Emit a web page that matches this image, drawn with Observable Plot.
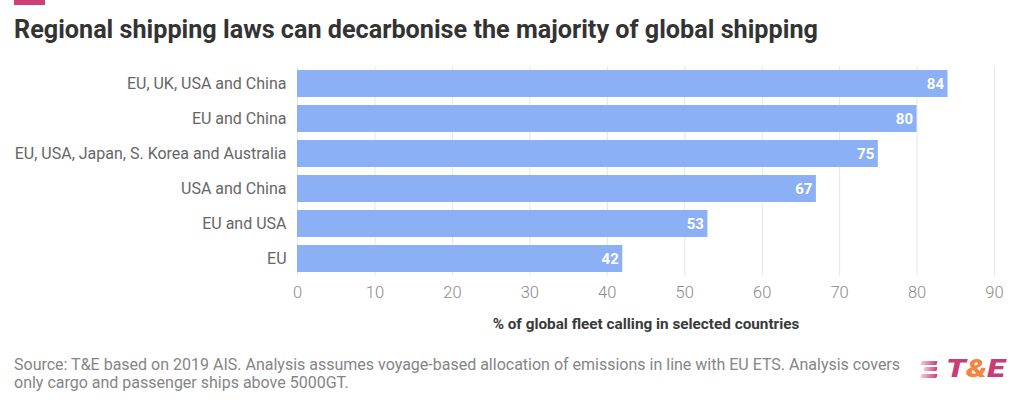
<!DOCTYPE html>
<html>
<head>
<meta charset="utf-8">
<script src="https://cdn.jsdelivr.net/npm/d3@7"></script>
<script src="https://cdn.jsdelivr.net/npm/@observablehq/plot@0.6"></script>
<style>
  html, body { margin: 0; padding: 0; background: #fff; }
  body { width: 1020px; height: 407px; position: relative; overflow: hidden; font-family: Roboto, "Noto Sans", sans-serif; }
  #accent { position: absolute; left: 14px; top: 0; width: 31px; height: 5px; background: #cc3f78; }
  #title { position: absolute; left: 14px; top: 15px; font-size: 25.2px; line-height: 30px; font-weight: 700; color: #333; white-space: nowrap; }
  #chart { position: absolute; left: 0; top: 55px; }
  #footer { position: absolute; left: 14px; top: 356px; width: 920px; font-size: 16px; line-height: 18px; color: #858585; white-space: nowrap; }
  #logo { position: absolute; left: 921px; top: 357px; height: 24px; display: flex; align-items: center; }
  #logo .stripes { display: flex; flex-direction: column; align-items: flex-end; gap: 3px; width: 16px; margin-right: 9px; }
  #logo .stripes span { display: block; height: 3.5px; background: linear-gradient(90deg, #f6c4d6, #cc3f78); transform: skewX(-15deg); }
  #logo .word { font-size: 25px; line-height: 24px; font-weight: 900; font-style: italic; transform: scaleX(1.3); transform-origin: left center; white-space: nowrap; }
  .pk { color: #c93c74; } .or { color: #f5843f; }
  #chart svg text { font-family: Roboto, sans-serif; }
</style>
</head>
<body>
<div id="accent"></div>
<div id="title">Regional shipping laws can decarbonise the majority of global shipping</div>
<div id="chart"></div>
<div id="footer">Source: T&amp;E based on 2019 AIS. Analysis assumes voyage-based allocation of emissions in line with EU ETS. Analysis covers<br>only cargo and passenger ships above 5000GT.</div>
<div id="logo"><div class="stripes"><span style="width:16px"></span><span style="width:13px"></span><span style="width:16px"></span></div><div class="word"><span class="pk">T</span><span class="or">&amp;</span><span class="pk">E</span></div></div>
<script>
const regions = ["EU, UK, USA and China", "EU and China", "EU, USA, Japan, S. Korea and Australia", "USA and China", "EU and USA", "EU"];
const shares = [84, 80, 75, 67, 53, 42];
const xTicks = [0, 10, 20, 30, 40, 50, 60, 70, 80, 90];
const axisLabel = "% of global fleet calling in selected countries";

const data = regions.map((r, i) => ({region: r, value: shares[i]}));

const chart = Plot.plot({
  width: 1020,
  height: 290,
  marginLeft: 297,
  marginRight: 26,
  marginTop: 11.5,
  marginBottom: 69.5,
  x: {domain: [0, 90]},
  y: {domain: regions, paddingInner: 0.23, paddingOuter: 0.1},
  marks: [
    Plot.gridX(xTicks, {stroke: "#e6e6e6", strokeOpacity: 1}),
    Plot.barX(data, {x: "value", y: "region", fill: "#8cb0f5"}),
    Plot.text(data, {x: "value", y: "region", text: d => String(d.value), textAnchor: "end", dx: -4, fill: "#fff", fontWeight: "bold", fontSize: 15}),
    Plot.axisX(xTicks, {tickSize: 0, tickPadding: 10, fontSize: 16.5, fontWeight: 300, color: "#8a8a8a", label: null}),
    Plot.axisY({tickSize: 0, tickPadding: 11, fontSize: 16, color: "#666", label: null}),
    Plot.text([axisLabel], {frameAnchor: "bottom", dy: 53, fontWeight: "bold", fontSize: 15.3, fill: "#3a3a3a"})
  ]
});
document.getElementById("chart").appendChild(chart);
</script>
</body>
</html>
